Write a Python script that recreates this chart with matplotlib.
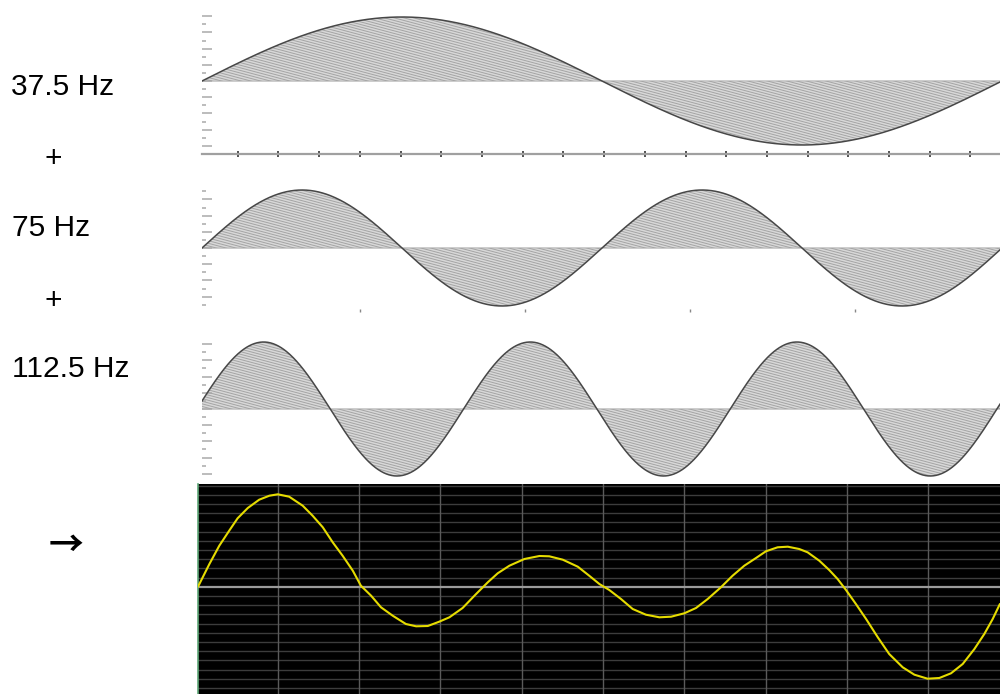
import numpy as np
import matplotlib.pyplot as plt
from matplotlib.collections import LineCollection

W, H = 1000, 694

# left-hand labels
labels = ["37.5 Hz", "+", "75 Hz", "+", "112.5 Hz", "\u2192"]

# the three component tones (frequency from the labels, amplitude/phase)
freqs_hz = [37.5, 75.0, 112.5]
amps = [64, 58, 67]
phases = [0.0, 0.0, 0.12]

# summed trace on the scope screen (time in ms, value in screen units)
sum_t_ms = [0.00, 0.38, 0.71, 1.04, 1.32, 1.66, 2.04, 2.38, 2.66, 3.04, 3.49, 3.82,
            4.16, 4.49, 4.82, 5.16, 5.43, 5.77, 6.10, 6.49, 6.93, 7.27, 7.66, 8.04,
            8.38, 8.82, 9.27, 9.66, 9.99, 10.38, 10.88, 11.38, 11.71, 12.16, 12.66,
            13.04, 13.38, 13.71, 14.10, 14.49, 14.93, 15.38, 15.77, 16.21, 16.60,
            16.99, 17.43, 17.82, 18.21, 18.60, 18.93, 19.32, 19.66, 20.04, 20.32,
            20.71, 21.04, 21.32, 21.60, 21.93, 22.27, 22.66, 23.04, 23.49, 23.88,
            24.32, 24.71, 25.10, 25.49, 25.88, 26.21, 26.49, 26.73]
sum_v = [0.00, 2.27, 4.10, 5.60, 6.84, 7.87, 8.70, 9.10, 9.24, 9.00, 8.10, 7.10,
         5.94, 4.44, 3.10, 1.60, 0.10, -0.90, -2.06, -2.90, -3.73, -3.96, -3.93, -3.50,
         -3.06, -2.13, -0.73, 0.44, 1.34, 2.10, 2.77, 3.07, 3.04, 2.70, 2.00,
         1.10, 0.27, -0.33, -1.23, -2.23, -2.80, -3.06, -3.00, -2.66, -2.13,
         -1.23, -0.06, 1.10, 2.10, 2.87, 3.54, 3.94, 4.00, 3.77, 3.44,
         2.60, 1.67, 0.77, -0.33, -1.73, -3.23, -5.06, -6.73, -8.06, -8.80,
         -9.20, -9.13, -8.66, -7.73, -6.23, -4.73, -3.23, -1.73]

fig = plt.figure(figsize=(W / 100, H / 100), dpi=100)
FONT = ["Liberation Sans", "DejaVu Sans"]


def px_axes(left, top, right, bottom):
    return fig.add_axes([left / W, 1 - bottom / H, (right - left) / W, (bottom - top) / H])


# (rect in px, ylim, number of left ticks each side)
panels = [((202, 10, 1000, 154), (-73, 71), 8),
          ((202, 182, 1000, 312), (-64, 66), 7),
          ((202, 336, 1000, 482), (-73, 73), 8)]
t_end = 798 / 30.0
t = np.linspace(0, t_end, 1200)

for i, (rect, ylim, nt) in enumerate(panels):
    ax = px_axes(*rect)
    ax.set_xlim(0, t_end)
    ax.set_ylim(*ylim)
    y = amps[i] * np.sin(2 * np.pi * freqs_hz[i] * t / 1000.0 + phases[i])

    poly = ax.fill_between(t, 0, y, facecolor="#d8d8d8", edgecolor="none")
    # streaky hatching, clipped to the filled area
    cs = np.arange(ylim[0] - 5, ylim[1] + 8 * t_end + 5, 2.6)
    segs = [[(0, c), (t_end, c - 8 * t_end)] for c in cs]
    lc = LineCollection(segs, colors="#a4a4a4", linewidths=0.7)
    ax.add_collection(lc)
    lc.set_clip_path(poly.get_paths()[0], ax.transData)

    ax.axhline(0, color="#c4c4c4", lw=1.2, zorder=1)
    ax.plot(t, y, color="#474747", lw=1.1)

    for s in ["top", "right", "left"]:
        ax.spines[s].set_visible(False)
    major = np.arange(-nt // 2 * 2, nt // 2 * 2 + 1, 2) * 8.1
    minor = np.arange(-nt, nt + 1, 1) * 8.1
    ax.set_yticks(major)
    ax.set_yticks(minor, minor=True)
    ax.tick_params(axis="y", which="major", direction="in", length=7, width=1.2,
                   color="#b0b0b0", labelleft=False)
    ax.tick_params(axis="y", which="minor", direction="in", length=3, width=1.2,
                   color="#b0b0b0")
    ax.set_ylim(*ylim)

    if i == 0:
        ax.spines["bottom"].set_color("#a0a0a0")
        ax.spines["bottom"].set_linewidth(1.6)
        ax.set_xticks(1.19 + np.arange(0, 19) * 1.357)
        ax.tick_params(axis="x", direction="inout", length=4, width=1.2,
                       color="#333333", labelbottom=False)
    else:
        ax.spines["bottom"].set_visible(False)
        if i == 1:
            ax.set_xticks(5.27 + np.arange(0, 4) * 5.5)
            ax.tick_params(axis="x", direction="in", length=2, width=1,
                           color="#888888", labelbottom=False)
        else:
            ax.set_xticks([])
    ax.set_xlim(0, t_end)
    ax.patch.set_alpha(0)

# scope screen with the summed signal
ax = px_axes(198, 484, 1000, 694)
ax.set_facecolor("black")
ax.set_xlim(0, 802 / 30.0)
ax.set_ylim(-10.73, 10.27)
for k in range(-11, 12):
    if k != 0:
        ax.axhline(k * 0.92, color="#3c3c3c", lw=1.0, zorder=1)
for k in range(9):
    ax.axvline(2.66 + k * 2.71, color="#5a5a5a", lw=1.0, zorder=1)
ax.axhline(0, color="#9a9a9a", lw=1.6, zorder=2)
ax.plot(sum_t_ms, sum_v, color="#e6dc00", lw=1.5, zorder=3,
        solid_joinstyle="round", solid_capstyle="round")
ax.set_xticks([])
ax.set_yticks([])
for s in ["top", "right", "bottom"]:
    ax.spines[s].set_visible(False)
ax.spines["left"].set_color("#5fa878")
ax.spines["left"].set_linewidth(1.2)

# labels on the left
label_pos = [(11, 95, "baseline", 21.5), (45, 167, "baseline", 21.5),
             (12, 236, "baseline", 21.5), (45, 309, "baseline", 21.5),
             (12, 377, "baseline", 21.5), (66, 545, "center", 25)]
for s, (x, y, va, size) in zip(labels, label_pos):
    if s == "\u2192":
        fig.text(x / W, 1 - y / H, s, fontsize=size, va=va, ha="center",
                 family=["Noto Sans CJK JP", "DejaVu Sans"], fontweight="bold",
                 color="black")
    else:
        fig.text(x / W, 1 - y / H, s, fontsize=size, family=FONT, va=va,
                 ha="left", color="black")

fig.savefig("out.png", dpi=100, facecolor="white")
